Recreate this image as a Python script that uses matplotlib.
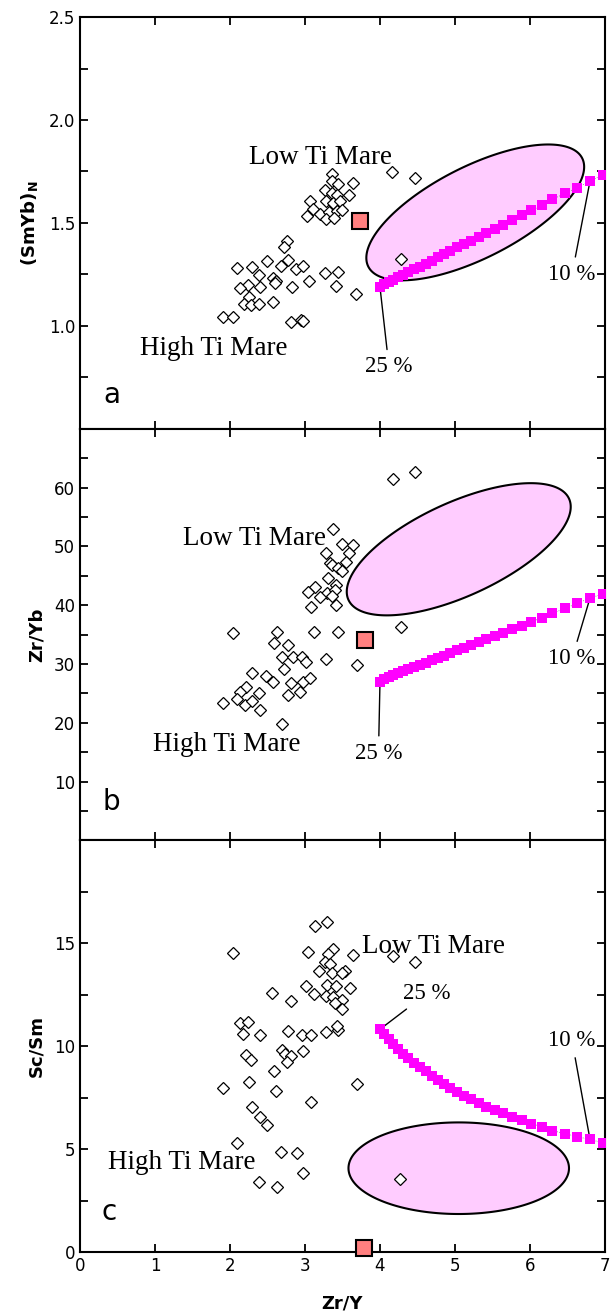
import matplotlib
matplotlib.use('Agg')
import matplotlib.pyplot as plt
import numpy as np
from matplotlib.ticker import FixedLocator, MultipleLocator

# batch melting curve, 25 % -> 10 % (shared Zr/Y)
melt_zry = [4.00, 4.06, 4.12, 4.18, 4.24, 4.31, 4.38, 4.46, 4.53, 4.61,
            4.69, 4.77, 4.85, 4.94, 5.03, 5.12, 5.22, 5.32, 5.42, 5.53,
            5.64, 5.76, 5.89, 6.02, 6.16, 6.30, 6.47, 6.63, 6.80, 6.97]
melt_smyb = [1.188, 1.202, 1.213, 1.224, 1.236, 1.247, 1.260, 1.274, 1.287, 1.302,
             1.316, 1.333, 1.347, 1.363, 1.381, 1.397, 1.414, 1.433, 1.451, 1.470,
             1.491, 1.514, 1.537, 1.561, 1.585, 1.615, 1.644, 1.671, 1.703, 1.733]
melt_zryb = [27.0, 27.4, 27.75, 28.07, 28.41, 28.75, 29.09, 29.48, 29.82, 30.21,
             30.62, 31.01, 31.41, 31.86, 32.32, 32.76, 33.22, 33.73, 34.24, 34.75,
             35.31, 35.89, 36.5, 37.19, 37.86, 38.61, 39.46, 40.31, 41.2, 41.9]
melt_scsm = [10.82, 10.58, 10.35, 10.12, 9.88, 9.64, 9.42, 9.20, 8.98, 8.77,
             8.56, 8.36, 8.16, 7.96, 7.77, 7.58, 7.41, 7.23, 7.06, 6.90,
             6.73, 6.57, 6.41, 6.24, 6.07, 5.90, 5.74, 5.60, 5.47, 5.30]

# mare basalts, panel a: (Sm/Yb)N vs Zr/Y
a_x = [3.36, 3.64, 3.36, 3.44, 3.27, 3.36, 3.43, 3.59, 3.28, 3.37, 3.47, 3.07,
       3.11, 3.20, 3.32, 3.43, 3.49, 3.03, 3.28, 3.39, 4.16, 4.47, 4.28,
       2.76, 2.72, 2.09, 2.29, 2.49, 2.68, 2.77, 2.88, 2.97, 2.39, 2.57, 2.62,
       2.24, 2.13, 2.40, 2.60, 2.83, 3.06, 3.27, 3.44, 3.41, 3.68, 2.25, 2.19,
       2.28, 2.39, 2.58, 1.91, 2.04, 2.81, 2.95, 2.98]
a_y = [1.740, 1.692, 1.705, 1.690, 1.661, 1.645, 1.637, 1.637, 1.604, 1.596, 1.604, 1.604,
       1.569, 1.543, 1.552, 1.556, 1.564, 1.535, 1.518, 1.523, 1.747, 1.716, 1.325,
       1.410, 1.381, 1.280, 1.287, 1.313, 1.293, 1.318, 1.277, 1.293, 1.245, 1.232, 1.219,
       1.196, 1.183, 1.190, 1.207, 1.190, 1.216, 1.256, 1.259, 1.195, 1.154, 1.139, 1.107,
       1.099, 1.105, 1.118, 1.043, 1.041, 1.018, 1.026, 1.021]

# panel b: Zr/Yb vs Zr/Y
b_x = [3.37, 3.49, 3.64, 3.28, 3.59, 3.33, 3.36, 3.55, 3.44, 3.49, 3.31, 3.42,
       3.13, 3.04, 3.29, 3.40, 3.20, 3.36, 3.08, 3.41, 2.04, 2.63, 3.12, 3.44,
       2.59, 2.77, 2.69, 2.84, 2.96, 3.01, 3.28, 2.72, 3.69, 2.30, 2.48, 2.57,
       2.81, 2.97, 3.07, 2.22, 2.39, 2.78, 2.93, 2.13, 2.10, 2.20, 2.30, 1.91,
       2.40, 2.69, 4.18, 4.47, 4.28]
b_y = [53.0, 50.4, 50.2, 48.9, 48.9, 47.2, 46.9, 47.3, 46.3, 45.8, 44.6, 43.4,
       43.0, 42.2, 42.0, 42.6, 41.3, 41.6, 39.7, 40.1, 35.3, 35.5, 35.4, 35.4,
       33.6, 33.3, 31.2, 31.2, 31.1, 30.3, 30.8, 29.1, 29.9, 28.4, 27.9, 27.0,
       26.7, 27.0, 27.6, 26.0, 25.0, 24.8, 25.2, 25.2, 24.1, 23.0, 23.7, 23.3,
       22.2, 19.8, 61.5, 62.7, 36.3]

# panel c: Sc/Sm vs Zr/Y
c_x = [3.13, 3.29, 2.04, 3.04, 3.38, 3.31, 3.64, 3.27, 3.34, 3.19, 3.36, 3.53,
       3.49, 3.01, 3.29, 3.41, 3.60, 2.56, 3.12, 3.28, 3.38, 3.50, 2.82, 3.40,
       3.49, 2.13, 2.24, 2.18, 2.40, 2.78, 2.96, 3.08, 3.28, 3.44, 3.43, 2.22,
       2.28, 2.69, 2.73, 2.81, 2.76, 2.98, 2.59, 2.26, 1.91, 2.61, 3.69, 3.08,
       2.30, 2.40, 2.49, 2.10, 2.68, 2.89, 2.97, 2.39, 2.63, 4.27, 4.18, 4.47]
c_y = [15.85, 16.03, 14.54, 14.59, 14.72, 14.47, 14.42, 14.10, 13.97, 13.65, 13.57, 13.67,
       13.54, 12.92, 12.97, 12.94, 12.85, 12.57, 12.54, 12.45, 12.37, 12.24, 12.19, 12.08,
       11.80, 11.11, 11.19, 10.58, 10.53, 10.72, 10.53, 10.53, 10.69, 10.77, 10.97, 9.57,
       9.32, 9.81, 9.62, 9.52, 9.24, 9.78, 8.79, 8.24, 7.98, 7.81, 8.18, 7.30,
       7.05, 6.57, 6.19, 5.31, 4.84, 4.82, 3.82, 3.42, 3.14, 3.55, 14.38, 14.08]

# sample (red square) per panel
sample_x = [3.73, 3.80, 3.79]
sample_y = [1.51, 34.1, 0.2]

# field ellipses: centre x, centre y, half width, half height, rise at right tip
field_a = (5.27, 1.551, 1.452, 0.330, 0.221)
field_b = (5.05, 49.5, 1.493, 11.24, 7.22)
field_c = (5.05, 4.07, 1.470, 2.225, 0.0)

ylabels = ['(SmYb)$_\\mathbf{N}$', 'Zr/Yb', 'Sc/Sm']
letters = ['a', 'b', 'c']
ylims = [(0.5, 2.5), (0, 70), (0, 20)]
major_y = [[1.0, 1.5, 2.0, 2.5], [10, 20, 30, 40, 50, 60], [0, 5, 10, 15]]
minor_y = [[0.75, 1.25, 1.75, 2.25], [5, 15, 25, 35, 45, 55, 65], [2.5, 7.5, 12.5, 17.5]]

# label positions (x, y) per panel
low_pos = [(3.21, 1.82), (2.33, 51.3), (4.71, 14.84)]
high_pos = [(1.78, 0.89), (1.96, 16.3), (1.36, 4.35)]
p25_pos = [(4.12, 0.80), (3.98, 14.8), (4.63, 12.57)]
p10_pos = [(6.56, 1.25), (6.56, 30.9), (6.56, 10.28)]
letter_pos = [(0.42, 0.665), (0.42, 6.6), (0.39, 1.93)]

serif = ['Liberation Serif', 'DejaVu Serif']


def draw_field(ax, field):
    cx, cy, rx, ry, rise = field
    t = np.linspace(0, 2 * np.pi, 300)
    xs = cx + rx * np.cos(t)
    ys = cy + rise * np.cos(t) + np.sqrt(ry ** 2 - rise ** 2) * np.sin(t)
    ax.fill(xs, ys, facecolor='#ffccff', edgecolor='black', linewidth=1.5, zorder=1)


fig = plt.figure(figsize=(6.1, 13.14), dpi=100)
axes = fig.subplots(3, 1, sharex=True)
fig.subplots_adjust(left=0.1311, right=0.9918, top=0.987, bottom=0.0472, hspace=0)

pts = [(a_x, a_y), (b_x, b_y), (c_x, c_y)]
melts = [melt_smyb, melt_zryb, melt_scsm]
fields = [field_a, field_b, field_c]

for i, ax in enumerate(axes):
    draw_field(ax, fields[i])
    ax.plot(pts[i][0], pts[i][1], linestyle='none', marker='D', markersize=5.9,
            markerfacecolor='white', markeredgecolor='black', markeredgewidth=0.9, zorder=3)
    ax.plot(melt_zry, melts[i], linestyle=':', color='gray', linewidth=0.6, zorder=2)
    ax.plot(melt_zry, melts[i], linestyle='none', marker='s', markersize=6.8,
            color='#ff00ff', markeredgewidth=0, zorder=4)
    ax.plot([sample_x[i]], [sample_y[i]], linestyle='none', marker='s', markersize=12,
            markerfacecolor='#ff7f7f', markeredgecolor='black', markeredgewidth=1.5,
            zorder=6, clip_on=False)

    ax.text(*low_pos[i], 'Low Ti Mare', family=serif, fontsize=19.5, ha='center', va='center', zorder=7)
    ax.text(*high_pos[i], 'High Ti Mare', family=serif, fontsize=19.5, ha='center', va='center', zorder=7)
    ax.annotate('25 %', xy=(melt_zry[0], melts[i][0]), xytext=p25_pos[i],
                family=serif, fontsize=16.5, ha='center', va='center',
                arrowprops=dict(arrowstyle='-', color='black', lw=1.0, shrinkA=3, shrinkB=0))
    ax.annotate('10 %', xy=(melt_zry[-2], melts[i][-2]), xytext=p10_pos[i],
                family=serif, fontsize=16.5, ha='center', va='center',
                arrowprops=dict(arrowstyle='-', color='black', lw=1.0, shrinkA=3, shrinkB=0))
    ax.text(*letter_pos[i], letters[i], fontsize=20, ha='center', va='center')

    ax.set_xlim(0, 7)
    ax.set_ylim(*ylims[i])
    ax.yaxis.set_major_locator(FixedLocator(major_y[i]))
    ax.yaxis.set_minor_locator(FixedLocator(minor_y[i]))
    ax.xaxis.set_major_locator(MultipleLocator(1))
    ax.tick_params(which='both', direction='in', top=True, right=True,
                   length=6, width=1.3, labelsize=12)
    for sp in ax.spines.values():
        sp.set_linewidth(1.5)
    ax.set_ylabel(ylabels[i], fontsize=13, fontweight='bold', labelpad=6)

axes[2].set_xlabel('Zr/Y', fontsize=13, fontweight='bold', labelpad=14)

fig.savefig('out.png', dpi=100)
